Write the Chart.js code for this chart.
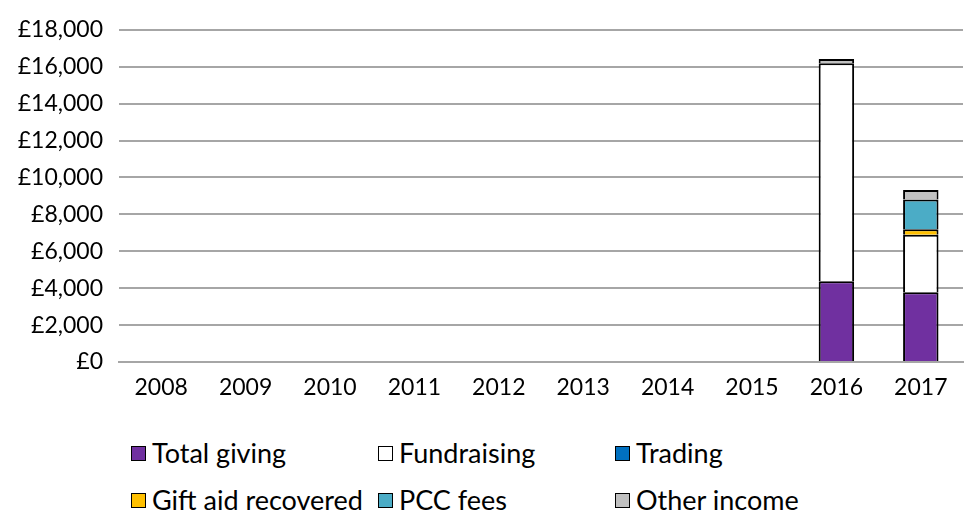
<!DOCTYPE html>
<html><head><meta charset="utf-8">
<script src="https://cdn.jsdelivr.net/npm/chart.js@4/dist/chart.umd.min.js"></script>
<style>
html,body{margin:0;padding:0;background:#fff;}
#wrap{position:relative;width:967px;height:515px;}
#c{position:absolute;left:0;top:0;}
.leg{position:absolute;font-family:Lato,"Open Sans",sans-serif;font-size:27px;color:#000;display:flex;align-items:center;white-space:nowrap;line-height:30px;}
.leg span.box{display:inline-block;width:15px;height:15px;border:1.5px solid #000;margin-right:6px;box-sizing:border-box;}
</style></head>
<body><div id="wrap"><canvas id="c" width="967" height="420"></canvas><div id="legend"></div></div>
<script>
const categories = ["2008","2009","2010","2011","2012","2013","2014","2015","2016","2017"];
const seriesNames = ["Total giving","Fundraising","Trading","Gift aid recovered","PCC fees","Other income"];
const totalGiving = [null,null,null,null,null,null,null,null,4370,3780];
const fundraising = [null,null,null,null,null,null,null,null,11820,3110];
const trading = [null,null,null,null,null,null,null,null,0,0];
const giftAid = [null,null,null,null,null,null,null,null,0,300];
const pccFees = [null,null,null,null,null,null,null,null,0,1620];
const otherIncome = [null,null,null,null,null,null,null,null,230,510];
const yTicks = [0,2000,4000,6000,8000,10000,12000,14000,16000,18000];
const colors = ["#7030a0","#ffffff","#0070c0","#ffc000","#4bacc6","#c0c0c0"];
const values = [totalGiving,fundraising,trading,giftAid,pccFees,otherIncome];

const datasets = seriesNames.map((n,i)=>({
  label:n, data:values[i], backgroundColor:colors[i], borderColor:"#000",
  borderWidth: values[i].map(v=> (v && v>0) ? 2 : 0), categoryPercentage:1.0, barPercentage:0.42
}));

new Chart(document.getElementById('c'),{
  type:'bar',
  data:{labels:categories,datasets},
  options:{
    responsive:false, animation:false,
    layout:{padding:{top:29,right:4,left:0,bottom:0}},
    plugins:{legend:{display:false},tooltip:{enabled:false}},
    scales:{
      x:{stacked:true,grid:{display:false},border:{color:"#a6a6a6",width:2},
         afterFit:(ax)=>{ax.height=58;},
         ticks:{color:"#000",font:{family:"Lato",size:23},padding:4}},
      y:{stacked:true,min:0,max:18000,
         afterBuildTicks:(ax)=>{ax.ticks=yTicks.map(v=>({value:v}));},
         afterFit:(ax)=>{ax.width=119;},
         grid:{color:"#a6a6a6",lineWidth:2,drawTicks:false},border:{display:false},
         ticks:{color:"#000",font:{family:"Lato",size:23},padding:16,
           callback:(v)=>"£"+Number(v).toLocaleString("en-GB")}}
    }
  }
});

const pos=[[131,453],[378,453],[615,453],[131,500],[378,500],[615,500]];
const lg=document.getElementById('legend');
seriesNames.forEach((n,i)=>{
  const d=document.createElement('div');d.className='leg';
  d.style.left=pos[i][0]+'px';d.style.top=(pos[i][1]-15)+'px';
  d.innerHTML='<span class="box" style="background:'+colors[i]+'"></span>'+n;
  lg.appendChild(d);
});
</script></body></html>
